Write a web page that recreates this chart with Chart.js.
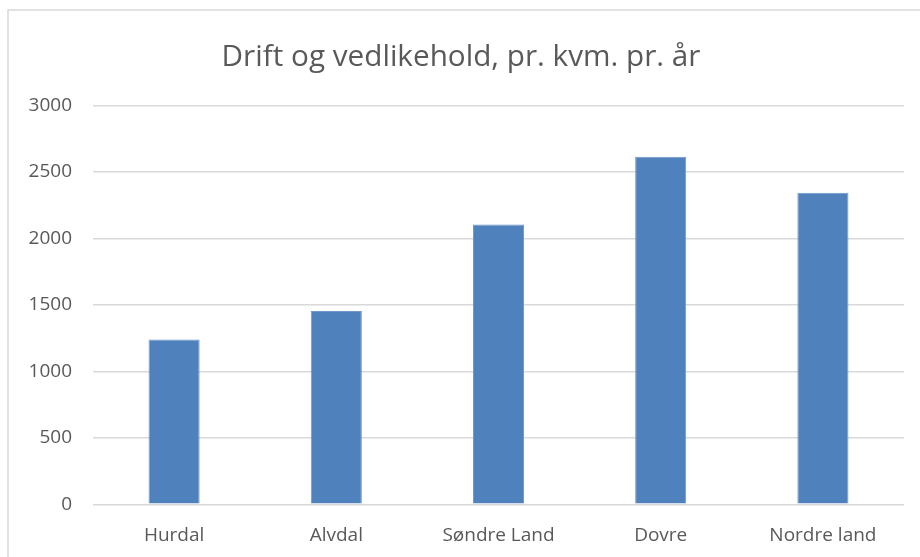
<!DOCTYPE html>
<html>
<head>
<meta charset="utf-8">
<script src="https://cdn.jsdelivr.net/npm/chart.js@4"></script>
<style>
  html, body { margin: 0; padding: 0; background: #ffffff; }
  #wrap { position: relative; width: 920px; height: 557px; }
</style>
</head>
<body>
<div id="wrap"><canvas id="c" width="920" height="557"></canvas></div>
<script>
const categories = ["Hurdal", "Alvdal", "Søndre Land", "Dovre", "Nordre land"];
const values = [1240, 1455, 2105, 2615, 2345];
const titleText = "Drift og vedlikehold, pr. kvm. pr. år";
const yTicks = [0, 500, 1000, 1500, 2000, 2500, 3000];

const textColor = "#595959";
const gridColor = "#d9d9d9";
const barColor = "#4f81bd";
const fontFamily = "'Open Sans', 'Noto Sans', sans-serif";

const frame = {
  id: "frame",
  beforeDraw(chart) {
    const ctx = chart.ctx;
    ctx.save();
    ctx.fillStyle = "#ffffff";
    ctx.fillRect(0, 0, chart.width, chart.height);
    ctx.strokeStyle = gridColor;
    ctx.lineWidth = 1.5;
    ctx.strokeRect(8, 10, 2000, 2000);
    ctx.restore();
  }
};

new Chart(document.getElementById("c"), {
  type: "bar",
  data: {
    labels: categories,
    datasets: [{
      data: values,
      backgroundColor: barColor,
      borderColor: "#6f97c9",
      borderWidth: 1,
      barPercentage: 0.315,
      categoryPercentage: 1.0
    }]
  },
  options: {
    responsive: false,
    animation: false,
    layout: { padding: { left: 18, right: 16, top: 0, bottom: 0 } },
    plugins: {
      legend: { display: false },
      tooltip: { enabled: false },
      title: {
        display: true,
        text: titleText,
        color: textColor,
        font: { family: fontFamily, size: 29.7, weight: "normal" },
        padding: { top: 40, bottom: 30 }
      }
    },
    scales: {
      x: {
        grid: { display: false, drawTicks: false },
        border: { display: false },
        ticks: {
          color: textColor,
          font: { family: fontFamily, size: 19 },
          padding: 20,
          maxRotation: 0
        },
        afterFit(axis) { axis.height = 52.7; }
      },
      y: {
        min: 0,
        max: 3000,
        afterBuildTicks(axis) { axis.ticks = yTicks.map(v => ({ value: v })); },
        grid: { color: gridColor, lineWidth: 1.5, drawTicks: false },
        border: { display: false },
        ticks: {
          color: textColor,
          font: { family: fontFamily, size: 19 },
          padding: 21,
          callback: (v) => String(v)
        },
        afterFit(axis) { axis.width = 75; }
      }
    }
  },
  plugins: [frame]
});
</script>
</body>
</html>
